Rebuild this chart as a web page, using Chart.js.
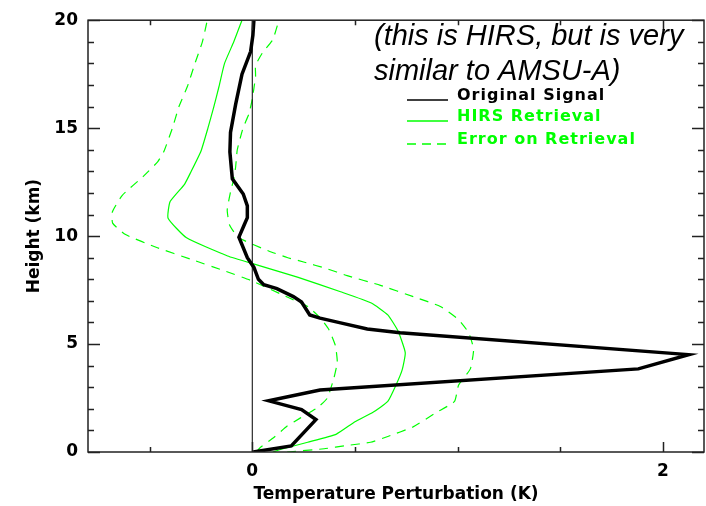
<!DOCTYPE html>
<html>
<head>
<meta charset="utf-8">
<script src="https://cdn.jsdelivr.net/npm/chart.js@4.4.1/dist/chart.umd.min.js"></script>
<style>
  html, body { margin: 0; padding: 0; background: #fff; }
  canvas { display: block; }
</style>
</head>
<body>
<canvas id="profileChart" width="706" height="506"></canvas>
<script>
// Temperature perturbation profiles (K) against height (km)
const signalHeight = [0, 0.28, 1.5, 1.96, 2.37, 2.87, 3.85, 4.51, 5.52, 5.7, 5.98, 6.2, 6.35, 6.95, 7.2, 7.57, 7.75, 8.0, 8.55, 9.0, 9.95, 10.5, 10.85, 11.4, 11.95, 12.65, 12.95, 13.9, 14.8, 16.1, 17.5, 18.55, 19.3, 20];
const signalTemp = [0.005, 0.19, 0.31, 0.24, 0.08, 0.33, 1.88, 2.125, 0.72, 0.56, 0.43, 0.33, 0.28, 0.24, 0.20, 0.12, 0.056, 0.03, 0.008, -0.024, -0.065, -0.04, -0.024, -0.024, -0.044, -0.097, -0.10, -0.109, -0.106, -0.081, -0.05, -0.008, 0.003, 0.008];

const retrievalHeight = [0, 0.15, 0.45, 0.83, 1.4, 1.85, 2.34, 3.1, 3.8, 4.6, 5.6, 6.35, 6.9, 7.42, 8.1, 8.7, 9.08, 9.92, 10.83, 11.6, 12.4, 12.95, 13.93, 15, 16, 16.93, 18, 19, 20];
const retrievalTemp = [0.10, 0.15, 0.27, 0.41, 0.50, 0.59, 0.66, 0.70, 0.73, 0.745, 0.71, 0.66, 0.58, 0.43, 0.22, 0.01, -0.12, -0.32, -0.41, -0.40, -0.33, -0.30, -0.25, -0.216, -0.187, -0.162, -0.135, -0.09, -0.05];

const errLowHeight = [0, 0.22, 0.67, 1.2, 1.58, 2.04, 2.49, 3.4, 4.16, 4.92, 5.67, 6.2, 6.74, 7.11, 7.95, 8.4, 8.93, 9.46, 10.07, 10.6, 11.13, 11.89, 12.8, 13.45, 13.93, 15, 16, 16.93, 18, 19, 20];
const errLowTemp = [0.02, 0.04, 0.105, 0.17, 0.235, 0.316, 0.365, 0.397, 0.414, 0.405, 0.373, 0.332, 0.27, 0.186, -0.008, -0.138, -0.30, -0.462, -0.617, -0.68, -0.681, -0.633, -0.527, -0.46, -0.43, -0.389, -0.357, -0.316, -0.279, -0.243, -0.219];

const errHighHeight = [0, 0.15, 0.3, 0.45, 0.72, 1.15, 1.85, 2.34, 3.1, 3.85, 4.76, 5.52, 6.13, 6.74, 7.19, 7.72, 8.17, 8.5, 8.8, 9.01, 9.31, 9.92, 10.5, 11.2, 12.04, 12.65, 13.2, 14.0, 15.0, 15.67, 16.35, 17.4, 17.9, 18.48, 19.1, 20];
const errHighTemp = [0.17, 0.35, 0.46, 0.576, 0.66, 0.78, 0.90, 0.985, 1.005, 1.062, 1.078, 1.054, 1.005, 0.916, 0.786, 0.624, 0.462, 0.36, 0.25, 0.17, 0.08, -0.065, -0.11, -0.122, -0.106, -0.09, -0.081, -0.073, -0.045, -0.016, 0.0, 0.016, 0.016, 0.049, 0.10, 0.13];

const zeroLineHeight = [0, 20];
const zeroLineTemp = [0, 0];

const xMajorTicks = [0, 2];
const xMinorTicks = [-0.5, 0.5, 1, 1.5];
const yMajorTicks = [0, 5, 10, 15, 20];
const yMinorTicks = [1, 2, 3, 4, 6, 7, 8, 9, 11, 12, 13, 14, 16, 17, 18, 19];

const legendLabels = ['Original Signal', 'HIRS Retrieval', 'Error on Retrieval'];
const noteLines = ['(this is HIRS, but is very', 'similar to AMSU-A)'];

const GREEN = '#00ff00';
const AXIS = '#222';
const labelFont = { family: 'DejaVu Sans', size: 17, weight: 'bold' };

function toPoints(temps, heights) {
    return temps.map((t, i) => ({ x: t, y: heights[i] }));
}

// box with inward tick marks on all four sides, plus the note and the legend
const framePlugin = {
    id: 'frameAndNotes',
    afterDraw(chart) {
        const { ctx, chartArea: a, scales: { x, y } } = chart;
        ctx.save();
        ctx.strokeStyle = AXIS;
        ctx.lineWidth = 1.5;
        ctx.strokeRect(a.left, a.top, a.right - a.left, a.bottom - a.top);

        ctx.beginPath();
        const xTick = (v, len) => {
            const px = Math.round(x.getPixelForValue(v)) + 0.5;
            ctx.moveTo(px, a.bottom); ctx.lineTo(px, a.bottom - len);
            ctx.moveTo(px, a.top); ctx.lineTo(px, a.top + len);
        };
        const yTick = (v, len) => {
            const py = Math.round(y.getPixelForValue(v)) + 0.5;
            ctx.moveTo(a.left, py); ctx.lineTo(a.left + len, py);
            ctx.moveTo(a.right, py); ctx.lineTo(a.right - len, py);
        };
        xMajorTicks.forEach(v => xTick(v, 10));
        xMinorTicks.forEach(v => xTick(v, 5));
        yMajorTicks.forEach(v => yTick(v, 12));
        yMinorTicks.forEach(v => yTick(v, 6));
        ctx.stroke();

        // note
        ctx.fillStyle = '#000';
        ctx.font = 'italic 29px "Liberation Sans", Arial, sans-serif';
        ctx.textBaseline = 'alphabetic';
        ctx.fillText(noteLines[0], 374, 45);
        ctx.fillText(noteLines[1], 374, 80);

        // legend
        const rows = [
            { y: 100, color: '#000', dash: [] },
            { y: 121, color: GREEN, dash: [] },
            { y: 144, color: GREEN, dash: [9, 6] }
        ];
        ctx.font = 'bold 16px "DejaVu Sans", sans-serif';
        ctx.letterSpacing = '1px';
        rows.forEach((r, i) => {
            ctx.beginPath();
            ctx.setLineDash(r.dash);
            ctx.strokeStyle = r.color;
            ctx.lineWidth = 1.3;
            ctx.moveTo(407, r.y);
            ctx.lineTo(448, r.y);
            ctx.stroke();
            ctx.setLineDash([]);
            ctx.fillStyle = r.color;
            ctx.fillText(legendLabels[i], 457, r.y);
        });
        ctx.restore();
    }
};

const ctxProfile = document.getElementById('profileChart').getContext('2d');

const profileChart = new Chart(ctxProfile, {
    type: 'scatter',
    data: {
        datasets: [{
            label: legendLabels[0],
            data: toPoints(signalTemp, signalHeight),
            borderColor: '#000',
            borderWidth: 3.5,
            showLine: true,
            pointRadius: 0,
            tension: 0
        }, {
            label: 'zero',
            data: toPoints(zeroLineTemp, zeroLineHeight),
            borderColor: '#000',
            borderWidth: 1,
            showLine: true,
            pointRadius: 0
        }, {
            label: legendLabels[1],
            data: toPoints(retrievalTemp, retrievalHeight),
            borderColor: GREEN,
            borderWidth: 1.2,
            showLine: true,
            pointRadius: 0,
            tension: 0.15
        }, {
            label: legendLabels[2],
            data: toPoints(errLowTemp, errLowHeight),
            borderColor: GREEN,
            borderWidth: 1.2,
            borderDash: [9, 7],
            showLine: true,
            pointRadius: 0,
            tension: 0.15
        }, {
            label: legendLabels[2] + ' (upper)',
            data: toPoints(errHighTemp, errHighHeight),
            borderColor: GREEN,
            borderWidth: 1.2,
            borderDash: [9, 7],
            showLine: true,
            pointRadius: 0,
            tension: 0.15
        }]
    },
    options: {
        responsive: false,
        animation: false,
        layout: {
            padding: { top: 12, right: 2, bottom: 0, left: 0 }
        },
        plugins: {
            legend: { display: false },
            tooltip: { enabled: false }
        },
        scales: {
            x: {
                type: 'linear',
                min: -0.8,
                max: 2.2,
                grid: { display: false, drawTicks: false },
                border: { display: false },
                afterBuildTicks: s => { s.ticks = xMajorTicks.map(v => ({ value: v })); },
                afterFit: s => { s.height = 54; },
                ticks: {
                    color: '#000',
                    font: labelFont,
                    padding: 9,
                    autoSkip: false,
                    maxRotation: 0,
                    callback: v => String(v)
                },
                title: {
                    display: true,
                    text: 'Temperature Perturbation (K)',
                    color: '#000',
                    font: labelFont,
                    padding: { top: 0, bottom: 1 }
                }
            },
            y: {
                type: 'linear',
                min: 0,
                max: 20,
                grid: { display: false, drawTicks: false },
                border: { display: false },
                afterBuildTicks: s => { s.ticks = yMajorTicks.map(v => ({ value: v })); },
                afterFit: s => { s.width = 88; },
                ticks: {
                    color: '#000',
                    font: labelFont,
                    padding: 10,
                    autoSkip: false,
                    callback: v => String(v)
                },
                title: {
                    display: true,
                    text: 'Height (km)',
                    color: '#000',
                    font: labelFont,
                    padding: { top: 24, bottom: 0 }
                }
            }
        }
    },
    plugins: [framePlugin]
});
</script>
</body>
</html>
